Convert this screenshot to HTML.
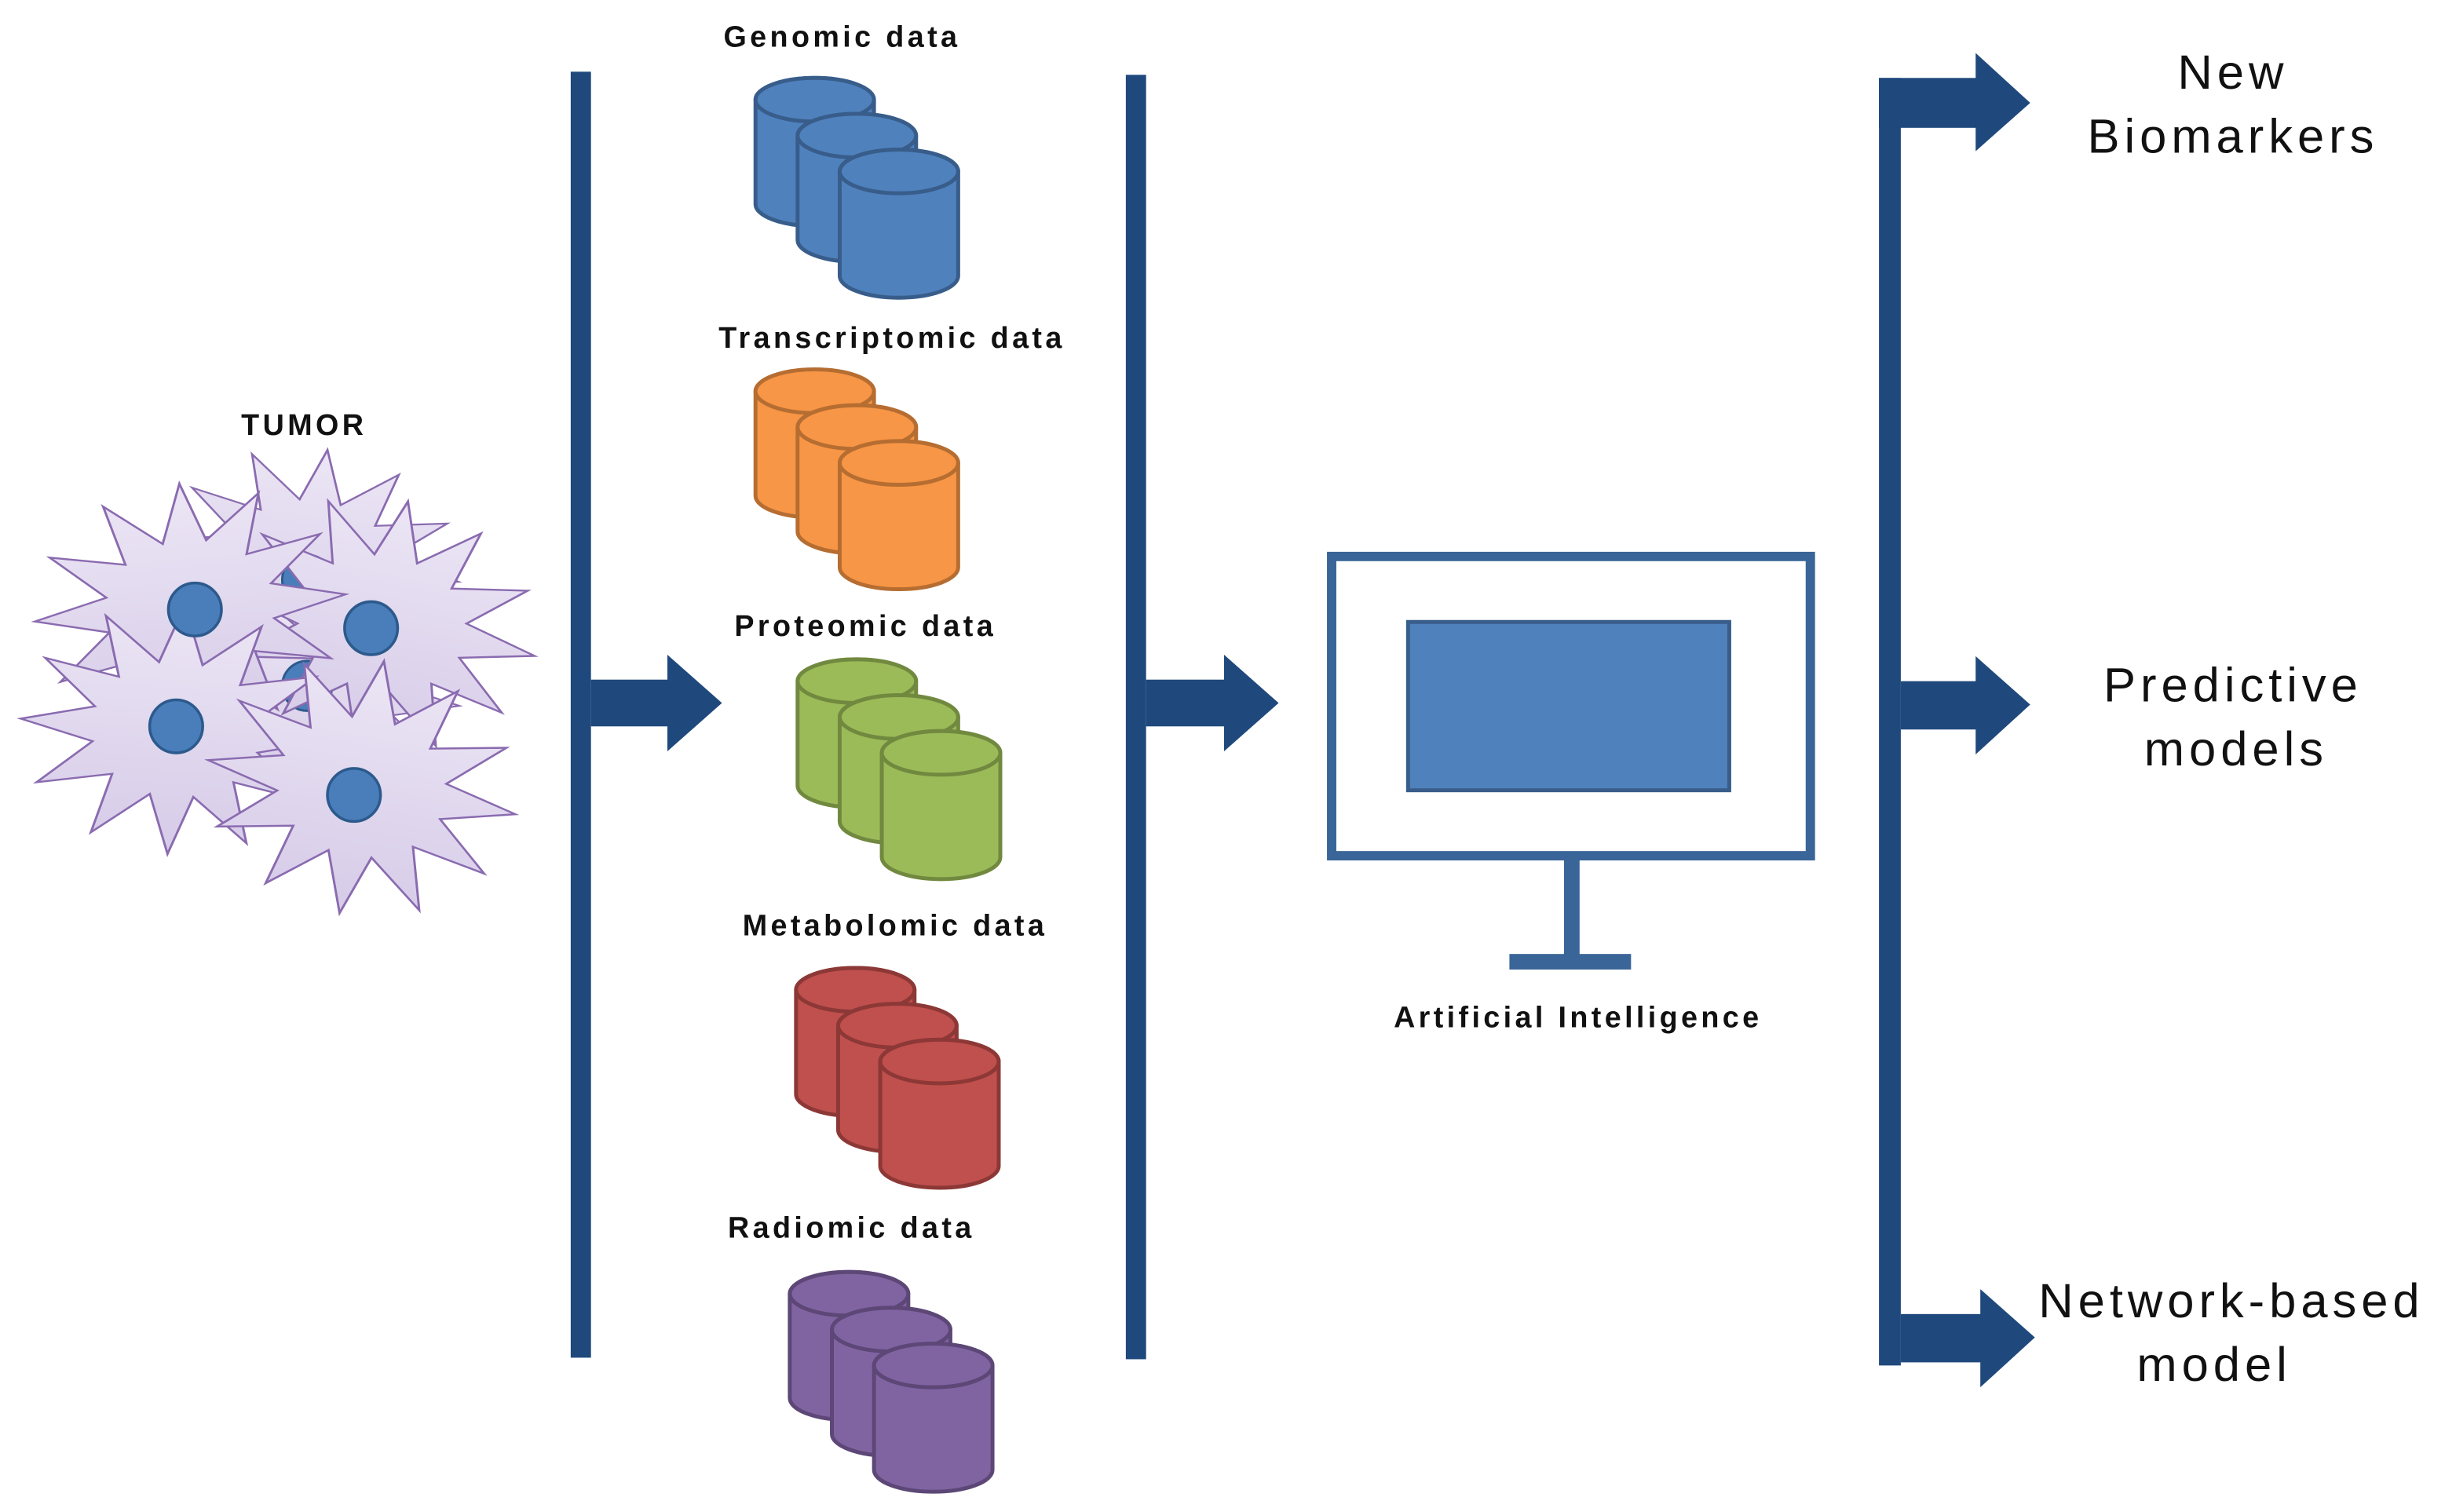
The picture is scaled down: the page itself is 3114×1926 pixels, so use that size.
<!DOCTYPE html>
<html><head><meta charset="utf-8"><style>
html,body{margin:0;padding:0;background:#fff;}
svg{display:block;}
.lb{font-family:"Liberation Sans",sans-serif;font-weight:bold;font-size:19px;fill:#111;text-anchor:middle;letter-spacing:2.2px;}
.rl{font-family:"Liberation Sans",sans-serif;font-size:31px;fill:#111;text-anchor:middle;letter-spacing:3px;}
</style></head><body>
<svg width="3114" height="1926" viewBox="0 0 1568 970" preserveAspectRatio="none" xmlns="http://www.w3.org/2000/svg">
<defs>
<symbol id="cyl" viewBox="0 0 79 97" width="79" height="97" overflow="visible">
<path d="M1.5,15 V82 A38,14 0 0 0 77.5,82 V15 A38,14 0 0 0 1.5,15 Z" stroke-width="2.5"/>
<ellipse cx="39.5" cy="15" rx="38" ry="14" stroke-width="2.5"/>
</symbol>
<linearGradient id="sg" x1="0" y1="0" x2="0" y2="1"><stop offset="0" stop-color="#ece6f5"/><stop offset="1" stop-color="#d6cbe8"/></linearGradient>
<polygon id="star" points="100,0 53,14 87,50 39,39 50,87 14,53 0,100 -14,53 -50,87 -39,39 -87,50 -53,14 -100,0 -53,-14 -87,-50 -39,-39 -50,-87 -14,-53 0,-100 14,-53 50,-87 39,-39 87,-50 53,-14"/>
</defs>

<text class="lb" x="195" y="279">TUMOR</text>
<g fill="url(#sg)" stroke="#8a6bb0" stroke-width="1.5">
<use href="#star" transform="translate(200,360) rotate(8) scale(0.95,0.72)"/>
<use href="#star" transform="translate(205,445) rotate(5) scale(0.9,0.7)"/>
<circle cx="197" cy="372" r="16" fill="#4a7ebb" stroke="#2d5a8c"/>
<circle cx="197" cy="440" r="16" fill="#4a7ebb" stroke="#2d5a8c"/>
<use href="#star" transform="translate(245,400) rotate(12) scale(1.0,0.8)"/>
<use href="#star" transform="translate(122,390) rotate(-5) scale(1.0,0.8)"/>
<use href="#star" transform="translate(113,468) rotate(4) scale(1.0,0.8)"/>
<use href="#star" transform="translate(232,505) rotate(10) scale(1.0,0.82)"/>
</g>
<g fill="#4a7ebb" stroke="#2d5a8c" stroke-width="1.8">
<circle cx="125" cy="391" r="17"/>
<circle cx="238" cy="403" r="17"/>
<circle cx="113" cy="466" r="17"/>
<circle cx="227" cy="510" r="17"/>
</g>

<g fill="#1f497d">
<rect x="366" y="46" width="13" height="825"/>
<rect x="379" y="436" width="50" height="30"/>
<polygon points="428,420 463,451 428,482"/>
<rect x="722" y="48" width="13" height="824"/>
<rect x="735" y="436" width="52" height="30"/>
<polygon points="785,420 820,451 785,482"/>
<rect x="1205" y="50" width="14" height="826"/>
<rect x="1205" y="50" width="63" height="32"/>
<polygon points="1267,34 1302,66 1267,97"/>
<rect x="1219" y="437" width="49" height="31"/>
<polygon points="1267,421 1302,452 1267,484"/>
<rect x="1219" y="843" width="52" height="31"/>
<polygon points="1270,827 1305,858 1270,890"/>
</g>

<text class="lb" x="540" y="30">Genomic data</text>
<g fill="#4f81bd" stroke="#385d8a"><use href="#cyl" x="483" y="49"/><use href="#cyl" x="510" y="72"/><use href="#cyl" x="537" y="95"/></g>
<text class="lb" x="572" y="223">Transcriptomic data</text>
<g fill="#f79646" stroke="#b66d31"><use href="#cyl" x="483" y="236"/><use href="#cyl" x="510" y="259"/><use href="#cyl" x="537" y="282"/></g>
<text class="lb" x="555" y="408">Proteomic data</text>
<g fill="#9bbb59" stroke="#71893f"><use href="#cyl" x="510" y="422"/><use href="#cyl" x="537" y="445"/><use href="#cyl" x="564" y="468"/></g>
<text class="lb" x="574" y="600">Metabolomic data</text>
<g fill="#c0504d" stroke="#8c3836"><use href="#cyl" x="509" y="620"/><use href="#cyl" x="536" y="643"/><use href="#cyl" x="563" y="666"/></g>
<text class="lb" x="546" y="794">Radiomic data</text>
<g fill="#8064a2" stroke="#5c4776"><use href="#cyl" x="505" y="815"/><use href="#cyl" x="532" y="838"/><use href="#cyl" x="559" y="861"/></g>

<rect x="854" y="357" width="307" height="192" fill="#fff" stroke="#3a6598" stroke-width="6"/>
<rect x="903" y="399" width="206" height="108" fill="#4f81bd" stroke="#385d8a" stroke-width="2.5"/>
<rect x="1003" y="550" width="10" height="63" fill="#3a6598"/>
<rect x="968" y="612" width="78" height="10" fill="#3a6598"/>
<text class="lb" x="1012" y="659">Artificial Intelligence</text>

<text class="rl" x="1432" y="57">New</text>
<text class="rl" x="1432" y="98">Biomarkers</text>
<text class="rl" x="1432" y="450">Predictive</text>
<text class="rl" x="1434" y="491">models</text>
<text class="rl" x="1431" y="845">Network-based</text>
<text class="rl" x="1420" y="886">model</text>
</svg>
</body></html>
